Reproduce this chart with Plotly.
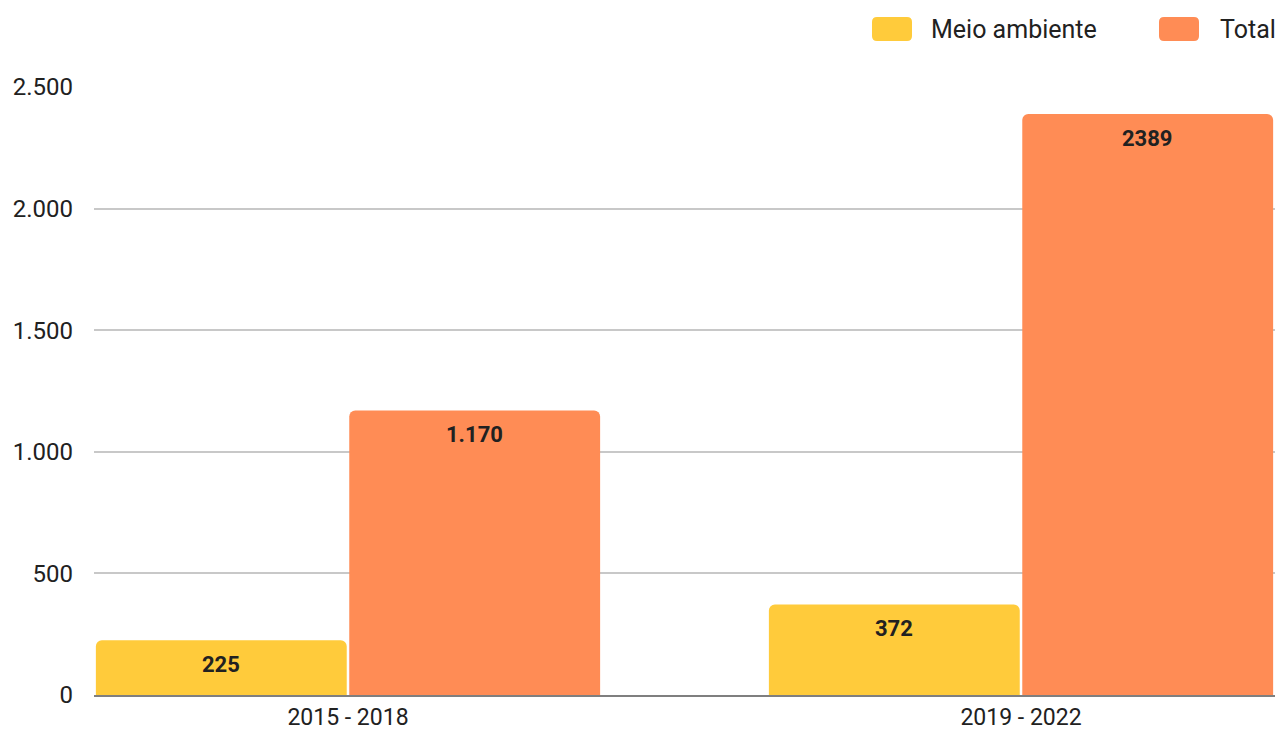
import plotly.graph_objects as go

categories = ["2015 - 2018", "2019 - 2022"]
meio_ambiente = [225, 372]
total = [1170, 2389]
meio_labels = ["225", "372"]
total_labels = ["1.170", "2389"]
y_ticks = [0, 500, 1000, 1500, 2000, 2500]
y_ticktext = ["0", "500", "1.000", "1.500", "2.000", "2.500"]

YELLOW = "#FFCB3B"
ORANGE = "#FF8C55"
TEXT = "#212121"
FONT = "Roboto"
BARGAP = 0.247
BARGROUPGAP = 0.01

fig = go.Figure()
fig.add_trace(go.Bar(x=categories, y=meio_ambiente, name="Meio ambiente",
                     marker=dict(color=YELLOW, line=dict(width=0)), hoverinfo="x+y"))
fig.add_trace(go.Bar(x=categories, y=total, name="Total",
                     marker=dict(color=ORANGE, line=dict(width=0)), hoverinfo="x+y"))

# value labels on bars
slot = (1 - BARGAP) / 2
annotations = []
for i, (vals, labs, off) in enumerate([(meio_ambiente, meio_labels, -slot / 2),
                                        (total, total_labels, slot / 2)]):
    for j, (v, lab) in enumerate(zip(vals, labs)):
        annotations.append(dict(x=j + off, y=v, xref="x", yref="y", text=f"<b>{lab}</b>",
                                showarrow=False, yanchor="middle", yshift=-24,
                                font=dict(family=FONT, size=22, color=TEXT)))

# custom legend (big rounded swatches)
def rounded_path(x0, y0, x1, y1, r):
    return (f"M {x0+r},{y0} L {x1-r},{y0} Q {x1},{y0} {x1},{y0+r} "
            f"L {x1},{y1-r} Q {x1},{y1} {x1-r},{y1} L {x0+r},{y1} "
            f"Q {x0},{y1} {x0},{y1-r} L {x0},{y0+r} Q {x0},{y0} {x0+r},{y0} Z")

shapes = []
legend_items = [("Meio ambiente", YELLOW, -403, -346), ("Total", ORANGE, -116, -57)]
for name, color, sx, tx in legend_items:
    shapes.append(dict(type="path", xref="paper", yref="paper",
                       xsizemode="pixel", ysizemode="pixel", xanchor=1, yanchor=1,
                       path=rounded_path(sx, 46, sx + 40, 70, 5),
                       fillcolor=color, line=dict(width=0)))
    annotations.append(dict(x=1, y=1, xref="paper", yref="paper", xshift=tx, yshift=58,
                            xanchor="left", yanchor="middle", text=name, showarrow=False,
                            font=dict(family=FONT, size=25, color=TEXT)))

fig.update_layout(
    width=1280, height=737,
    margin=dict(l=94, r=5, t=87, b=42),
    paper_bgcolor="white", plot_bgcolor="white",
    barmode="group", bargap=BARGAP, bargroupgap=BARGROUPGAP,
    barcornerradius=6,
    showlegend=False,
    font=dict(family=FONT, size=22, color=TEXT),
    annotations=annotations,
    shapes=shapes,
)
fig.update_xaxes(range=[-0.3774, 1.3774], showgrid=False, showline=True, automargin=False,
                 linecolor="#7F7F7F", linewidth=2, ticks="",
                 tickfont=dict(size=23, color=TEXT))
fig.update_yaxes(range=[0, 2500], tickvals=y_ticks, ticktext=y_ticktext, automargin=False,
                 showgrid=True, gridcolor="#C8C8C8", gridwidth=2, zeroline=False,
                 showline=False, ticks="", ticklabelstandoff=20,
                 tickfont=dict(size=24, color=TEXT))

fig.write_html("out.html", config={"displayModeBar": False},
               post_script="document.body.style.margin='0';document.body.style.overflow='hidden';")
